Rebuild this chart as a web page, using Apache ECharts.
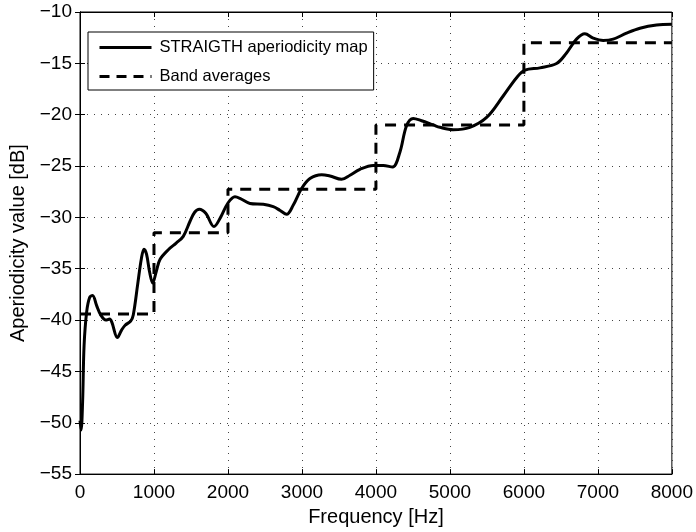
<!DOCTYPE html>
<html><head><meta charset="utf-8">
<script src="https://cdn.jsdelivr.net/npm/echarts@6/dist/echarts.min.js"></script>
<style>html,body{margin:0;padding:0;background:#fff}#c{width:696px;height:532px}</style>
</head><body><div id="c"></div>
<script>
const freqs = [0,15,35,55,90,130,170,225,280,350,400,430,505,560,610,685,720,780,830,865,900,940,982,1030,1081,1200,1300,1396,1486,1550,1613,1700,1811,1900,2000,2095,2162,2297,2477,2612,2700,2793,2883,2995,3108,3266,3378,3536,3649,3784,3964,4099,4225,4324,4414,4504,4617,4775,4865,5045,5270,5496,5720,5901,6014,6216,6441,6576,6711,6824,6937,7072,7207,7387,7568,7793,8000];
const aperiodicity = [-49.8,-50.7,-48,-42.5,-39.2,-37.8,-37.6,-38.6,-39.5,-40.0,-39.9,-40.2,-41.7,-41.0,-40.5,-40.1,-39.5,-36.5,-34,-33.1,-33.6,-35.3,-36.4,-35.3,-34.1,-33.1,-32.5,-31.85,-30.4,-29.5,-29.2,-29.6,-30.9,-30.0,-28.6,-28.0,-28.15,-28.64,-28.73,-28.96,-29.3,-29.7,-28.8,-27.19,-26.22,-25.84,-25.97,-26.29,-25.9,-25.32,-24.94,-24.94,-25.1,-23.65,-21.07,-20.36,-20.59,-21.0,-21.23,-21.46,-21.23,-20.27,-18.18,-16.4,-15.67,-15.44,-15.02,-13.99,-12.64,-12.12,-12.54,-12.77,-12.64,-12.06,-11.58,-11.26,-11.19];
const bandEdges = [0,1000,2000,4000,6000,8000];
const bandAverages = [-39.4,-31.5,-27.25,-21.0,-13.0];
const xTicks = [0,1000,2000,3000,4000,5000,6000,7000,8000];
const yTicks = [-55,-50,-45,-40,-35,-30,-25,-20,-15,-10];

const stepData = [];
for (let i = 0; i < bandAverages.length; i++) {
  stepData.push([bandEdges[i], bandAverages[i]]);
  stepData.push([bandEdges[i+1], bandAverages[i]]);
}
const fmt = v => String(v).replace('-', '\u2212');
const FONT = 'Liberation Sans, Arial, sans-serif';
const grid = {left:80,right:24,top:12,bottom:54,show:true,borderColor:'#000',borderWidth:1};
const gridLine = {show:true,lineStyle:{color:'#444',type:[1,6],width:1}};
const tick = {show:true,inside:true,length:5,lineStyle:{color:'#000'}};
const chart = echarts.init(document.getElementById('c'));
chart.setOption({
  animation:false,
  grid:grid,
  legend:{
    orient:'vertical',left:88,top:32,
    borderColor:'#000',borderWidth:1,backgroundColor:'#fff',borderRadius:0,
    padding:[7,6,5,10],itemWidth:52,itemHeight:17,itemGap:12,
    itemStyle:{opacity:0},
    textStyle:{fontFamily:FONT,fontSize:16.5,color:'#000',padding:[0,0,0,3]},
    data:[
      {name:'STRAIGTH aperiodicity map',lineStyle:{width:3,color:'#000',type:'solid'}},
      {name:'Band averages',lineStyle:{width:3,color:'#000',type:[10,7]}}
    ]
  },
  xAxis:[{
    type:'value',min:0,max:8000,interval:1000,
    name:'Frequency [Hz]',nameLocation:'middle',nameGap:32,
    nameTextStyle:{fontFamily:FONT,fontSize:20,color:'#000'},
    axisLine:{show:true,lineStyle:{color:'#000'}},axisTick:tick,
    axisLabel:{fontFamily:FONT,fontSize:19,color:'#000',margin:9,formatter:fmt},
    splitLine:gridLine
  },{
    type:'value',min:0,max:8000,interval:1000,position:'top',
    axisLine:{show:true,lineStyle:{color:'#000'}},axisTick:tick,
    axisLabel:{show:false},splitLine:{show:false}
  }],
  yAxis:[{
    type:'value',min:-55,max:-10,interval:5,
    name:'Aperiodicity value [dB]',nameLocation:'middle',nameGap:47,
    nameTextStyle:{fontFamily:FONT,fontSize:20,color:'#000'},
    axisLine:{show:true,lineStyle:{color:'#000'}},axisTick:tick,
    axisLabel:{fontFamily:FONT,fontSize:19,color:'#000',margin:8,formatter:fmt},
    splitLine:gridLine
  },{
    type:'value',min:-55,max:-10,interval:5,position:'right',
    axisLine:{show:true,lineStyle:{color:'#000'}},axisTick:tick,
    axisLabel:{show:false},splitLine:{show:false}
  }],
  series:[{
    name:'STRAIGTH aperiodicity map',type:'line',
    data:freqs.map((f,i)=>[f,aperiodicity[i]]),
    smooth:0.35,showSymbol:false,symbol:'none',
    lineStyle:{color:'#000',width:3},itemStyle:{color:'#000'}
  },{
    name:'Band averages',type:'line',data:stepData,
    showSymbol:false,symbol:'none',
    lineStyle:{color:'#000',width:3,type:[11,8]},itemStyle:{color:'#000'}
  }]
});
</script></body></html>
